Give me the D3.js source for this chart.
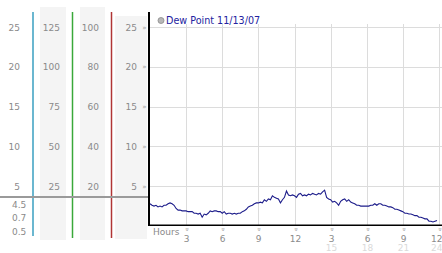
<!DOCTYPE html>
<html lang="en">
<head>
  <meta charset="UTF-8">
  <title>Dew Point 11/13/07</title>
  <script src="https://d3js.org/d3.v7.min.js"></script>
  <style>
    body { margin: 0; background: #fff; }
    text { font-family: "DejaVu Sans", Verdana, sans-serif; }
    .lbl { font-size: 9px; fill: #8a8a8a; }
    .mark { font-size: 7px; fill: #9a9a9a; }
    .grid-line { stroke: #dcdcdc; stroke-width: 1; }
  </style>
</head>
<body>
<script>
  // Data: dew point readings every 10 minutes, 11/13/07
  const seriesName = 'Dew Point 11/13/07';
  const stepMinutes = 10;
  const dewPoint = [
    2.8, 2.6, 2.5, 2.6, 2.4, 2.5, 2.4, 2.6, 2.6, 2.8,
    2.9, 2.8, 2.6, 2.2, 2.0, 2.0, 1.9, 1.9, 1.9, 1.8,
    1.8, 1.8, 1.6, 1.6, 1.5, 1.6, 1.1, 1.5, 1.4, 1.6,
    1.9, 1.8, 1.9, 1.9, 1.8, 1.8, 1.6, 1.8, 1.5, 1.6,
    1.6, 1.5, 1.6, 1.5, 1.6, 1.6, 1.8, 1.9, 2.1, 2.4,
    2.5, 2.6, 2.8, 2.9, 2.9, 3.0, 2.9, 3.3, 3.1, 3.4,
    3.3, 3.8, 3.6, 3.5, 3.4, 2.9, 3.3, 3.6, 4.4, 3.9,
    3.8, 3.9, 3.8, 3.6, 4.0, 4.1, 3.8, 3.9, 3.8, 4.0,
    3.9, 4.1, 4.0, 3.9, 4.1, 4.0, 4.3, 4.5, 3.6, 3.4,
    3.3, 3.0, 3.1, 2.9, 2.6, 3.1, 3.3, 3.4, 3.1, 3.3,
    3.0, 2.9, 2.8, 2.6, 2.6, 2.5, 2.5, 2.5, 2.5, 2.5,
    2.6, 2.6, 2.8, 2.6, 2.8, 2.8, 2.6, 2.6, 2.5, 2.4,
    2.4, 2.3, 2.1, 2.1, 2.0, 1.9, 1.8, 1.6, 1.6, 1.5,
    1.5, 1.4, 1.3, 1.3, 1.1, 1.1, 1.0, 0.9, 0.9, 0.6,
    0.6, 0.5, 0.6, 0.7
  ];
  const yTicks = [5, 10, 15, 20, 25];
  const col2Labels = [25, 50, 75, 100, 125];
  const col3Labels = [20, 40, 60, 80, 100];
  const hourTicks = [3, 6, 9, 12, 15, 18, 21, 24];
  const hourLabels = ['3', '6', '9', '12', '3', '6', '9', '12'];
  const hour24Labels = ['', '', '', '', '15', '18', '21', '24'];
  const summaryLabels = ['4.5', '0.7', '0.5'];   // max, current, min

  const width = 442, height = 253;
  const svg = d3.select('body').append('svg')
    .attr('width', width)
    .attr('height', height);

  const x = d3.scaleLinear().domain([0, 24]).range([150, 439]);
  const y = d3.scaleLinear().domain([0, 25]).range([226, 27]);

  // left-hand gray columns
  svg.append('rect').attr('x', 40).attr('y', 7).attr('width', 26).attr('height', 233).attr('fill', '#f4f4f4');
  svg.append('rect').attr('x', 80).attr('y', 7).attr('width', 25).attr('height', 233).attr('fill', '#f4f4f4');
  svg.append('rect').attr('x', 115).attr('y', 16).attr('width', 32).attr('height', 223).attr('fill', '#f4f4f4');

  // colored separators
  [[33, '#3a9fc0', 236], [72.5, '#3aa83a', 238], [111.5, '#b03535', 238]].forEach(([lx, c, y2]) => {
    svg.append('line')
      .attr('x1', lx).attr('x2', lx).attr('y1', 12).attr('y2', y2)
      .attr('stroke', c).attr('stroke-width', 1.5);
  });

  // scale labels on the left
  yTicks.forEach((v, i) => {
    const ty = y(v) + 3.5;
    svg.append('text').attr('class', 'lbl').attr('x', 20).attr('y', ty).attr('text-anchor', 'end').text(v);
    svg.append('text').attr('class', 'lbl').attr('x', 60).attr('y', ty).attr('text-anchor', 'end').text(col2Labels[i]);
    svg.append('text').attr('class', 'lbl').attr('x', 99).attr('y', ty).attr('text-anchor', 'end').text(col3Labels[i]);
    svg.append('text').attr('class', 'lbl').attr('x', 137).attr('y', ty).attr('text-anchor', 'end').text(v);
    svg.append('text').attr('class', 'mark').attr('x', 144.5).attr('y', y(v) + 2.5).attr('text-anchor', 'middle').text('»');
  });

  [207.5, 221, 235].forEach((by, i) => {
    svg.append('text').attr('class', 'lbl').attr('x', 12).attr('y', by).text(summaryLabels[i]);
  });

  svg.append('line')
    .attr('x1', 0).attr('x2', 150).attr('y1', 197).attr('y2', 197)
    .attr('stroke', '#9a9a9a').attr('stroke-width', 2);

  // grid
  yTicks.forEach(v => {
    svg.append('line').attr('class', 'grid-line')
      .attr('x1', 149).attr('x2', width).attr('y1', Math.round(y(v)) + 0.5).attr('y2', Math.round(y(v)) + 0.5);
  });
  hourTicks.forEach(h => {
    svg.append('line').attr('class', 'grid-line')
      .attr('x1', Math.round(x(h)) + 0.5).attr('x2', Math.round(x(h)) + 0.5).attr('y1', 24).attr('y2', 225);
  });

  // axes
  svg.append('line').attr('x1', 149).attr('x2', 149).attr('y1', 12).attr('y2', 226)
    .attr('stroke', '#000').attr('stroke-width', 2);
  svg.append('line').attr('x1', 148).attr('x2', width).attr('y1', 225.25).attr('y2', 225.25)
    .attr('stroke', '#000').attr('stroke-width', 1.5);

  // hour labels
  svg.append('text').attr('class', 'lbl').attr('x', 153).attr('y', 235).text('Hours');
  hourTicks.forEach((h, i) => {
    const hx = Math.round(x(h)) + 0.5;
    const last = i === hourTicks.length - 1;
    svg.append('text').attr('class', 'mark').attr('x', hx).attr('y', 231.5)
      .attr('text-anchor', 'middle')
      .attr('transform', `rotate(90, ${hx}, 229.5)`)
      .text('»');
    svg.append('text').attr('class', 'lbl').attr('x', hx).attr('y', 242)
      .attr('text-anchor', last ? 'end' : 'middle')
      .attr('dx', last ? 3 : 0)
      .text(hourLabels[i]);
    if (hour24Labels[i]) {
      svg.append('text').attr('class', 'lbl').attr('x', hx).attr('y', 251)
        .attr('text-anchor', last ? 'end' : 'middle')
        .attr('dx', last ? 3 : 0)
        .style('fill', '#dadada').text(hour24Labels[i]);
    }
  });

  // data line
  const line = d3.line()
    .x((d, i) => x(i * stepMinutes / 60))
    .y(d => y(d));
  svg.append('path')
    .datum(dewPoint)
    .attr('d', line)
    .attr('fill', 'none')
    .attr('stroke', '#1c1c8a')
    .attr('stroke-width', 1.1);

  // legend
  svg.append('circle').attr('cx', 161).attr('cy', 20.5).attr('r', 3)
    .attr('fill', '#b8b8b8').attr('stroke', '#8a8a8a').attr('stroke-width', 0.8);
  svg.append('text').attr('x', 166).attr('y', 24)
    .style('font-size', '9.6px').attr('fill', '#2323a0').text(seriesName);
</script>
</body>
</html>
